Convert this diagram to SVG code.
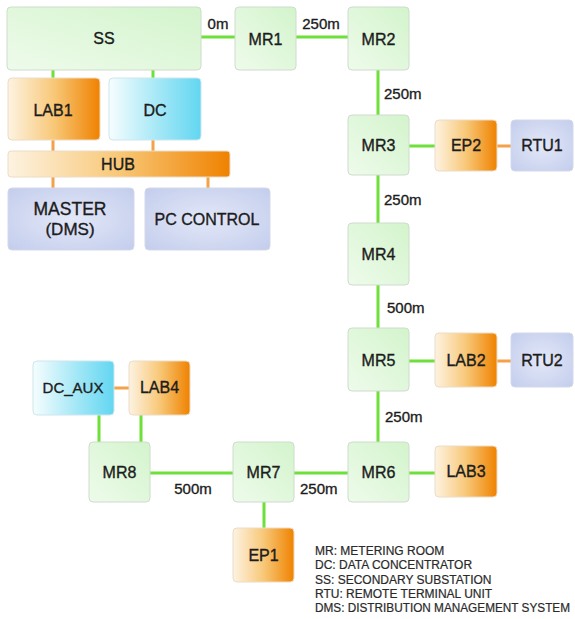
<svg xmlns="http://www.w3.org/2000/svg" width="575" height="619" viewBox="0 0 575 619">
<defs>
<linearGradient id="gG" x1="0" y1="1" x2="1" y2="0"><stop offset="0" stop-color="#eefbeb"/><stop offset="1" stop-color="#d3f4cc"/></linearGradient>
<linearGradient id="gO" x1="0" y1="0" x2="1" y2="0"><stop offset="0" stop-color="#fdf3e2"/><stop offset="0.5" stop-color="#f8c878"/><stop offset="1" stop-color="#ef8200"/></linearGradient>
<linearGradient id="gC" x1="0" y1="0" x2="1" y2="0"><stop offset="0" stop-color="#f6fdfe"/><stop offset="0.5" stop-color="#a9e9f7"/><stop offset="1" stop-color="#62d6f1"/></linearGradient>
<radialGradient id="gB" cx="0.5" cy="0.5" r="0.7"><stop offset="0" stop-color="#e3e8f8"/><stop offset="1" stop-color="#c3cdec"/></radialGradient>
</defs>
<style>
.g{fill:url(#gG);stroke:#cfdccd;stroke-width:1}
.o{fill:url(#gO);stroke:#ecdcc4;stroke-width:1}
.c{fill:url(#gC);stroke:#cde6ec;stroke-width:1}
.b{fill:url(#gB);stroke:#d3d9ea;stroke-width:1}
text{font-family:"Liberation Sans",Arial,sans-serif;fill:#1c1c1c;stroke:#1c1c1c;stroke-width:0.35}
.t{font-size:16px;text-anchor:middle}
.l{font-size:15px}
.k{font-size:12px;fill:#2a2a2a;stroke:#2a2a2a;stroke-width:0.2}
.lg{stroke:#6ee03a;stroke-width:3;fill:none}
.lo{stroke:#f4a24a;stroke-width:3;fill:none}
</style>
<g id="connectors">
<path class="lg" d="M201 37H235M296 37H348M378 70V115M378 175V223M378 285V328M378 391V442M409 146H435M409 361H435M409 473H435M294 473H348M150 473H233M264 502V528M99 415V442M141 415V442M53 70V78M153 70V78"/>
<path class="lo" d="M497 146H511M497 361H511M114 388H129M53 140V151M153 140V151M53 177V188M208 177V188"/>
<text class="l" x="218" y="29" text-anchor="middle">0m</text>
<text class="l" x="321" y="29" text-anchor="middle">250m</text>
<text class="l" x="384" y="99">250m</text>
<text class="l" x="384" y="205">250m</text>
<text class="l" x="387" y="313">500m</text>
<text class="l" x="385" y="422">250m</text>
<text class="l" x="300" y="494">250m</text>
<text class="l" x="193" y="494" text-anchor="middle">500m</text>
</g>
<g id="SS"><rect class="g" x="7" y="7" width="194" height="63" rx="4"/><text class="t" x="104" y="44">SS</text></g>
<g id="MR1"><rect class="g" x="235" y="7" width="61" height="63" rx="4"/><text class="t" x="265.5" y="45">MR1</text></g>
<g id="MR2"><rect class="g" x="348" y="7" width="61" height="63" rx="4"/><text class="t" x="378.5" y="45">MR2</text></g>
<g id="MR3"><rect class="g" x="348" y="115" width="61" height="60" rx="4"/><text class="t" x="378.5" y="151">MR3</text></g>
<g id="MR4"><rect class="g" x="348" y="223" width="61" height="62" rx="4"/><text class="t" x="378.5" y="260">MR4</text></g>
<g id="MR5"><rect class="g" x="348" y="328" width="61" height="63" rx="4"/><text class="t" x="378.5" y="366">MR5</text></g>
<g id="MR6"><rect class="g" x="348" y="442" width="61" height="60" rx="4"/><text class="t" x="378.5" y="478">MR6</text></g>
<g id="MR7"><rect class="g" x="233" y="442" width="61" height="60" rx="4"/><text class="t" x="263.5" y="478">MR7</text></g>
<g id="MR8"><rect class="g" x="89" y="442" width="61" height="60" rx="4"/><text class="t" x="119.5" y="478">MR8</text></g>
<g id="LAB1"><rect class="o" x="8" y="78" width="92" height="62" rx="4"/><text class="t" x="53" y="116">LAB1</text></g>
<g id="DC"><rect class="c" x="109" y="78" width="92" height="62" rx="4"/><text class="t" x="155" y="116">DC</text></g>
<g id="HUB"><rect class="o" x="8" y="151" width="222" height="26" rx="3"/><text class="t" x="118" y="170">HUB</text></g>
<g id="MASTER"><rect class="b" x="8" y="188" width="126" height="62" rx="4"/><text class="t" x="70" y="215" style="font-size:17.5px">MASTER</text><text class="t" x="70" y="235" style="font-size:17px">(DMS)</text></g>
<g id="PCCONTROL"><rect class="b" x="145" y="188" width="125" height="62" rx="4"/><text class="t" x="207" y="225">PC CONTROL</text></g>
<g id="EP2"><rect class="o" x="435" y="120" width="62" height="51" rx="4"/><text class="t" x="466" y="151">EP2</text></g>
<g id="RTU1"><rect class="b" x="511" y="120" width="62" height="51" rx="4"/><text class="t" x="542" y="151">RTU1</text></g>
<g id="LAB2"><rect class="o" x="435" y="333" width="62" height="54" rx="4"/><text class="t" x="466" y="366">LAB2</text></g>
<g id="RTU2"><rect class="b" x="511" y="333" width="62" height="54" rx="4"/><text class="t" x="542" y="366">RTU2</text></g>
<g id="LAB3"><rect class="o" x="435" y="446" width="62" height="51" rx="4"/><text class="t" x="466" y="477">LAB3</text></g>
<g id="DC_AUX"><rect class="c" x="33" y="361" width="81" height="54" rx="4"/><text class="t" x="73" y="393" style="font-size:15px">DC_AUX</text></g>
<g id="LAB4"><rect class="o" x="129" y="361" width="61" height="54" rx="4"/><text class="t" x="159.5" y="393">LAB4</text></g>
<g id="EP1"><rect class="o" x="233" y="528" width="61" height="54" rx="4"/><text class="t" x="263.5" y="561">EP1</text></g>
<g id="legend">
<text class="k" x="315" y="555">MR: METERING ROOM</text>
<text class="k" x="315" y="569">DC: DATA CONCENTRATOR</text>
<text class="k" x="315" y="584">SS: SECONDARY SUBSTATION</text>
<text class="k" x="315" y="598">RTU: REMOTE TERMINAL UNIT</text>
<text class="k" x="315" y="612" textLength="255" lengthAdjust="spacingAndGlyphs">DMS: DISTRIBUTION MANAGEMENT SYSTEM</text>
</g>
</svg>
